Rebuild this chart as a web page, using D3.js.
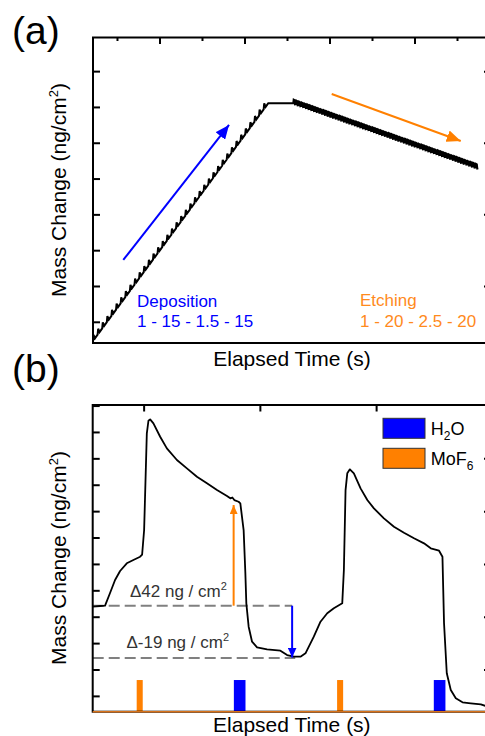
<!DOCTYPE html>
<html><head><meta charset="utf-8">
<script src="https://cdn.jsdelivr.net/npm/d3@7"></script>
<style>
body{margin:0;background:#fff;}
svg{display:block;font-family:"Liberation Sans",Arial,Helvetica,sans-serif;}
</style>
</head><body>
<svg id="c" width="485" height="736"></svg>
<script>
// ================= Panel (a) data =================
const aTimeMajorTicks = [0, 1, 2, 3];
const aTimeMinorTicks = [-0.5, 0.5, 1.5, 2.5, 3.5];
const aMassTicks = [100, 200, 300, 400, 500, 600, 700, 800];
const aMassTicksRight = [200, 400, 600, 800];
// [start time, end time, start mass, end mass]
const depSegment = [-0.788, 1.274, 48, 712];
const depCycles = 38;
const depCycleFrac = [0, 0.12, 0.42, 1];     // position inside one ALD cycle
const depCycleMass = [0, 0.95, 0.4, 1];      // fraction of per-cycle mass change
const etchSegment = [1.568, 3.745, 712, 530];
const etchCycles = 68;
const etchCycleFrac = [0, 0.15, 0.45, 0.62, 1];
const etchCycleMass = [0, -3.6, -3.1, 1.2, 1]; // fraction of per-cycle (negative) mass change
const depArrow = [[-0.432, 274], [0.812, 651]];
const etchArrow = [[2.02, 737.5], [3.538, 606.3]];

// ================= Panel (b) data =================
const bTimeTicks = [25, 50, 75];
const bMassTicks = [-10, 0, 10, 20, 30, 40, 50, 60, 70, 80, 90, 100];
const bMassTicksRight = [0, 20, 40, 60, 80];
const bTime = [13.94,15.52,16.6,17.67,18.75,19.83,21.27,22.69,24.14,24.57,25.0,25.58,25.93,26.29,27.0,28.45,29.89,32.05,34.2,36.36,38.51,40.67,42.82,43.53,43.97,44.4,45.32,45.69,46.4,46.77,46.98,47.48,48.21,49.29,51.44,54.31,55.75,57.18,58.62,59.7,61.49,62.93,64.38,65.8,67.61,67.96,68.32,68.69,69.25,70.11,71.55,73.0,74.42,76.57,78.73,80.88,83.04,85.19,86.64,88.43,89.16,89.33,89.5,90.09,90.95,92.03,93.47,95.26,97.41,98.9];
const bMass = [24.0,24.24,24.36,29.17,34.09,37.5,40.42,41.67,42.92,43.75,53.03,89.66,94.43,94.96,93.45,88.37,83.98,79.55,76.4,73.22,70.72,68.18,65.91,65.04,65.34,64.39,63.75,63.14,53.03,36.74,25.27,16.4,10.72,8.6,7.84,7.31,5.68,5.04,5.04,6.33,12.61,18.3,21.48,23.37,25.27,37.88,68.18,74.5,76.02,74.5,68.83,64.39,61.25,57.46,54.28,52.01,49.89,47.99,46.1,45.19,42.92,30.3,17.69,-1.25,-7.58,-10.72,-12.23,-12.61,-12.99,-13.9];
const mof6Pulses = [23.4, 66.5];
const mof6Width = 1.3;
const h2oPulses = [44.3, 87.3];
const h2oWidth = 2.5;
const pulseLevel = -3.8;
const upperBaseline = [[13.94, 24.36], [56.83, 24.36]];
const lowerBaseline = [[13.94, 4.55], [57.5, 4.55]];
const mof6Arrow = [[44.25, 24.36], [44.25, 62.5]];
const h2oArrow = [[56.83, 24.36], [56.83, 4.73]];
const legendItems = [["H", "2", "O", "#0000ff"], ["MoF", "6", "", "#ff8000"]];

const BLUE = "#0000ff", ORANGE = "#ff8000";
const svg = d3.select("#c");

// arrow markers
const defs = svg.append("defs");
function marker(id, color, len, wid) {
  defs.append("marker").attr("id", id).attr("viewBox", `0 0 ${len} ${wid}`)
    .attr("refX", len).attr("refY", wid / 2).attr("markerWidth", len).attr("markerHeight", wid)
    .attr("markerUnits", "userSpaceOnUse").attr("orient", "auto")
    .append("path").attr("d", `M0,0 L${len},${wid/2} L0,${wid} Z`).attr("fill", color);
}
marker("ab", BLUE, 14, 12);
marker("ao", ORANGE, 14, 12);
marker("bb", BLUE, 10, 9);
marker("bo", ORANGE, 9, 8);

function yLabel(g, cx, cy) {
  const t = g.append("text").attr("transform", `translate(${cx},${cy}) rotate(-90)`)
    .attr("text-anchor", "middle").attr("font-size", 21).attr("fill", "#000");
  t.append("tspan").text("Mass Change (ng/cm");
  t.append("tspan").attr("font-size", 13).attr("dy", -8).text("2");
  t.append("tspan").attr("dy", 8).text(")");
}

// ================= Panel (a) =================
{
  const L = 93, R = 491, T = 37.5, B = 343;
  const x = d3.scaleLinear().domain([-0.788, 3.894]).range([L, R]);
  const y = d3.scaleLinear().domain([42.2, 895.3]).range([B, T]);
  const g = svg.append("g");

  function buildCycles(seg, n, frac, mass) {
    const [t0, t1, m0, m1] = seg;
    const dt = (t1 - t0) / n, dm = (m1 - m0) / n;
    const pts = [];
    for (let k = 0; k < n; k++) {
      for (let j = 0; j < frac.length - 1; j++) {
        pts.push([t0 + (k + frac[j]) * dt, m0 + (k + mass[j]) * dm]);
      }
    }
    pts.push([t1, m1]);
    return pts;
  }
  const pts = buildCycles(depSegment, depCycles, depCycleFrac, depCycleMass)
    .concat(buildCycles(etchSegment, etchCycles, etchCycleFrac, etchCycleMass));
  const line = d3.line().x(d => x(d[0])).y(d => y(d[1]));
  g.append("path").attr("d", line(pts)).attr("fill", "none").attr("stroke", "#000")
    .attr("stroke-width", 2).attr("stroke-linejoin", "miter");

  // arrows
  g.append("line").attr("x1", x(depArrow[0][0])).attr("y1", y(depArrow[0][1]))
    .attr("x2", x(depArrow[1][0])).attr("y2", y(depArrow[1][1]))
    .attr("stroke", BLUE).attr("stroke-width", 2).attr("marker-end", "url(#ab)");
  g.append("line").attr("x1", x(etchArrow[0][0])).attr("y1", y(etchArrow[0][1]))
    .attr("x2", x(etchArrow[1][0])).attr("y2", y(etchArrow[1][1]))
    .attr("stroke", ORANGE).attr("stroke-width", 2).attr("marker-end", "url(#ao)");

  // texts
  g.append("text").attr("x", 137).attr("y", 306.5).attr("font-size", 17).attr("fill", BLUE).text("Deposition");
  g.append("text").attr("x", 137).attr("y", 327).attr("font-size", 17).attr("fill", BLUE).text("1 - 15 - 1.5 - 15");
  g.append("text").attr("x", 360).attr("y", 305.5).attr("font-size", 17).attr("fill", "#ff8a1c").text("Etching");
  g.append("text").attr("x", 360).attr("y", 326.5).attr("font-size", 17).attr("fill", "#ff8a1c").text("1 - 20 - 2.5 - 20");

  // axes ticks
  const tk = g.append("g").attr("stroke", "#000").attr("stroke-width", 2);
  tk.selectAll(".tm").data(aTimeMajorTicks).join("line")
    .attr("x1", d => x(d)).attr("x2", d => x(d)).attr("y1", T).attr("y2", T + 6.5);
  tk.selectAll(".tn").data(aTimeMinorTicks).join("line").attr("class", "tn")
    .attr("x1", d => x(d)).attr("x2", d => x(d)).attr("y1", T).attr("y2", T + 3.5);
  tk.selectAll(".yl").data(aMassTicks).join("line").attr("class", "yl")
    .attr("x1", L).attr("x2", L + 7).attr("y1", d => y(d)).attr("y2", d => y(d));
  tk.selectAll(".yr").data(aMassTicksRight).join("line").attr("class", "yr")
    .attr("x1", R - 7).attr("x2", R).attr("y1", d => y(d)).attr("y2", d => y(d));
  g.append("rect").attr("x", L).attr("y", T).attr("width", R - L).attr("height", B - T)
    .attr("fill", "none").attr("stroke", "#000").attr("stroke-width", 2);

  g.append("text").attr("x", 12).attr("y", 43.5).attr("font-size", 39).text("(a)");
  g.append("text").attr("x", (L + R) / 2).attr("y", 365.5).attr("text-anchor", "middle")
    .attr("font-size", 21).text("Elapsed Time (s)");
  yLabel(g, 66, 190);
}

// ================= Panel (b) =================
{
  const L = 92.7, R = 491, T = 405, B = 711.7;
  const x = d3.scaleLinear().domain([13.94, 99.6]).range([L, R]);
  const y = d3.scaleLinear().domain([-15.8, 100.4]).range([B, T]);
  const g = svg.append("g");

  // pulses
  g.selectAll(".po").data(mof6Pulses).join("rect").attr("class", "po")
    .attr("x", d => x(d)).attr("width", d => x(d + mof6Width) - x(d))
    .attr("y", y(pulseLevel)).attr("height", y(-15.8) - y(pulseLevel)).attr("fill", ORANGE);
  g.selectAll(".pb").data(h2oPulses).join("rect").attr("class", "pb")
    .attr("x", d => x(d)).attr("width", d => x(d + h2oWidth) - x(d))
    .attr("y", y(pulseLevel)).attr("height", y(-15.8) - y(pulseLevel)).attr("fill", BLUE);

  // dashed baselines
  const dl = d3.line().x(d => x(d[0])).y(d => y(d[1]));
  [upperBaseline, lowerBaseline].forEach(p => {
    g.append("path").attr("d", dl(p)).attr("stroke", "#808080").attr("stroke-width", 2)
      .attr("stroke-dasharray", "11,5").attr("fill", "none");
  });

  // mass curve
  const data = bTime.map((t, i) => [t, bMass[i]]);
  g.append("path").attr("d", d3.line().x(d => x(d[0])).y(d => y(d[1]))(data))
    .attr("fill", "none").attr("stroke", "#000").attr("stroke-width", 1.8).attr("stroke-linejoin", "round");

  // arrows
  g.append("line").attr("x1", x(mof6Arrow[0][0])).attr("y1", y(mof6Arrow[0][1]))
    .attr("x2", x(mof6Arrow[1][0])).attr("y2", y(mof6Arrow[1][1]))
    .attr("stroke", ORANGE).attr("stroke-width", 2).attr("marker-end", "url(#bo)");
  g.append("line").attr("x1", x(h2oArrow[0][0])).attr("y1", y(h2oArrow[0][1]))
    .attr("x2", x(h2oArrow[1][0])).attr("y2", y(h2oArrow[1][1]))
    .attr("stroke", BLUE).attr("stroke-width", 2).attr("marker-end", "url(#bb)");

  // annotation texts
  function delta(tx, ty, txt) {
    const t = g.append("text").attr("x", tx).attr("y", ty).attr("font-size", 17).attr("fill", "#333");
    t.append("tspan").text(txt);
    t.append("tspan").attr("font-size", 11).attr("dy", -7).text("2");
  }
  delta(130, 596.7, "Δ42 ng / cm");
  delta(126.5, 648.3, "Δ-19 ng / cm");

  // ticks & frame
  const tk = g.append("g").attr("stroke", "#000").attr("stroke-width", 2);
  tk.selectAll(".tt").data(bTimeTicks).join("line").attr("class", "tt")
    .attr("x1", d => x(d)).attr("x2", d => x(d)).attr("y1", T).attr("y2", T + 6.5);
  tk.selectAll(".yl").data(bMassTicks).join("line").attr("class", "yl")
    .attr("x1", L).attr("x2", L + 7).attr("y1", d => y(d)).attr("y2", d => y(d));
  tk.selectAll(".yr").data(bMassTicksRight).join("line").attr("class", "yr")
    .attr("x1", R - 7).attr("x2", R).attr("y1", d => y(d)).attr("y2", d => y(d));
  g.append("rect").attr("x", L).attr("y", T).attr("width", R - L).attr("height", B - T)
    .attr("fill", "none").attr("stroke", "#000").attr("stroke-width", 2);
  // orange baseline of the pulse trace, over the bottom axis
  g.append("line").attr("x1", L).attr("x2", R).attr("y1", B).attr("y2", B)
    .attr("stroke", "#d9731a").attr("stroke-width", 1.6);

  // legend
  const lg = g.append("g");
  legendItems.forEach((d, i) => {
    const yy = 418.3 + i * 30;
    lg.append("rect").attr("x", 383).attr("y", yy).attr("width", 42).attr("height", 20)
      .attr("fill", d[3]).attr("stroke", "#333").attr("stroke-width", 1);
    const t = lg.append("text").attr("x", 430.7).attr("y", yy + 16.7).attr("font-size", 18);
    t.append("tspan").text(d[0]);
    t.append("tspan").attr("font-size", 12).attr("dy", 5).text(d[1]);
    if (d[2]) t.append("tspan").attr("dy", -5).text(d[2]);
  });

  g.append("text").attr("x", 12).attr("y", 381.7).attr("font-size", 39).text("(b)");
  g.append("text").attr("x", (L + R) / 2).attr("y", 731.5).attr("text-anchor", "middle")
    .attr("font-size", 21).text("Elapsed Time (s)");
  yLabel(g, 66, 558);
}
</script>
</body></html>
